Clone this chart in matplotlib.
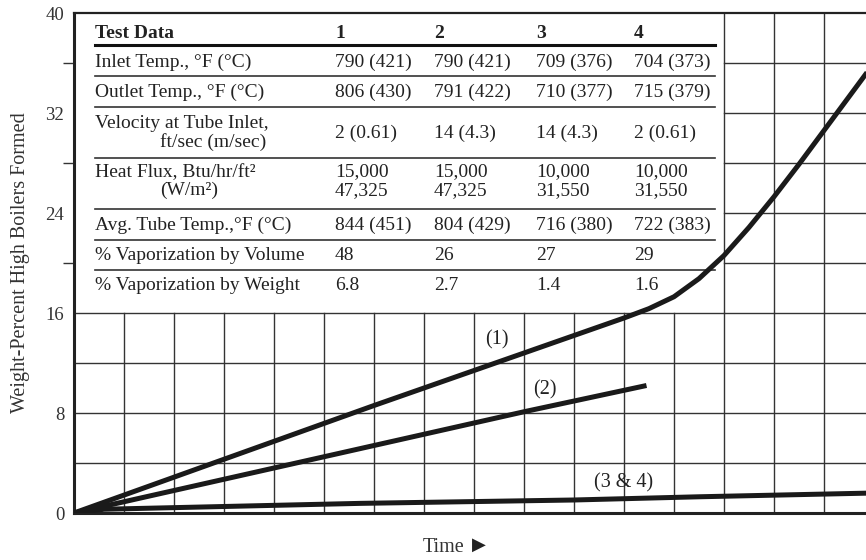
import matplotlib
matplotlib.use('Agg')
import matplotlib.pyplot as plt

plt.rcParams['font.family'] = ['Liberation Serif', 'DejaVu Serif', 'DejaVu Sans']

# curve data (time in grid units, weight-percent)
t1 = [0, 6, 9, 10, 10.5, 11, 11.5, 12, 12.5, 13, 13.5, 14, 14.5, 15, 15.5, 16]
w1 = [0, 8.6, 12.8, 14.2, 14.9, 15.6, 16.35, 17.3, 18.75, 20.6, 22.85, 25.3, 27.9, 30.6, 33.3, 36.0]
t2 = [0, 9, 11.45]
w2 = [0, 8.1, 10.2]
t34 = [0, 0.6, 5.72, 9.99, 12.52, 16.0]
w34 = [0, 0.3, 0.77, 1.04, 1.3, 1.6]

yticks = [0, 8, 16, 24, 32, 40]
ytick_minor = [20, 24, 28, 32, 36]

# table contents
col_heads = ['1', '2', '3', '4']
row_names = ['Inlet Temp., °F (°C)', 'Outlet Temp., °F (°C)',
             'Velocity at Tube Inlet,', 'Heat Flux, Btu/hr/ft²',
             'Avg. Tube Temp.,°F (°C)', '% Vaporization by Volume',
             '% Vaporization by Weight']
row_sub = ['', '', 'ft/sec (m/sec)', '(W/m²)', '', '', '']
inlet = ['790 (421)', '790 (421)', '709 (376)', '704 (373)']
outlet = ['806 (430)', '791 (422)', '710 (377)', '715 (379)']
velocity = ['2 (0.61)', '14 (4.3)', '14 (4.3)', '2 (0.61)']
flux_btu = ['15,000', '15,000', '10,000', '10,000']
flux_si = ['47,325', '47,325', '31,550', '31,550']
avg_temp = ['844 (451)', '804 (429)', '716 (380)', '722 (383)']
vap_vol = ['48', '26', '27', '29']
vap_wt = ['6.8', '2.7', '1.4', '1.6']

fig = plt.figure(figsize=(8.66, 5.6), dpi=100)
ax = fig.add_axes([74/866, 47/560, 792/866, 500/560])
ax.set_xlim(0, 15.84)
ax.set_ylim(0, 40)

gc = '#333333'
glw = 1.0
# grid, lower part full width, upper part only right of the table
for x in range(1, 16):
    ax.plot([x, x], [0, 16], color=gc, lw=glw, zorder=1)
for x in [13, 14, 15]:
    ax.plot([x, x], [16, 40], color=gc, lw=glw, zorder=1)
for y in [4, 8, 12, 16]:
    ax.plot([0, 16], [y, y], color=gc, lw=glw, zorder=1)
for y in [20, 24, 28, 32, 36]:
    ax.plot([13, 16], [y, y], color=gc, lw=glw, zorder=1)

# curves
for tx, wy in [(t1, w1), (t2, w2), (t34, w34)]:
    ax.plot(tx, wy, color='#1a1a1a', lw=3.6, solid_capstyle='butt',
            solid_joinstyle='round', zorder=3)
ax.text(8.45, 13.84, '(1)', fontsize=14.5, ha='center', va='center', color='#222')
ax.text(9.42, 9.84, '(2)', fontsize=14.5, ha='center', va='center', color='#222')
ax.text(10.99, 2.42, '(3 & 4)', fontsize=14.5, ha='center', va='center', color='#222')

# table
fs = 14
tc = '#222222'
xl = 0.42
xr = 12.82
col_x = [5.22, 7.2, 9.24, 11.2]
ax.text(xl, 38.4, 'Test Data', fontsize=fs, fontweight='bold', va='center', color=tc)
for cx, h in zip(col_x, col_heads):
    ax.text(cx, 38.4, h, fontsize=fs, fontweight='bold', va='center', color=tc)
ax.plot([xl, xr], [37.44, 37.44], color='#111', lw=2.2)
for yl in [34.96, 32.48, 28.4, 24.32, 21.84, 19.44]:
    ax.plot([xl, xr], [yl, yl], color='#333', lw=1.2)

row_y = [36.08, 33.68, 30.4, 26.5, 23.04, 20.64, 18.16]
row_vals = [inlet, outlet, velocity, None, avg_temp, vap_vol, vap_wt]
for i, name in enumerate(row_names):
    if row_sub[i]:
        ax.text(xl, row_y[i] + 0.76, name, fontsize=fs, va='center', color=tc)
        ax.text(1.72, row_y[i] - 0.72, row_sub[i], fontsize=fs, va='center', color=tc)
    else:
        ax.text(xl, row_y[i], name, fontsize=fs, va='center', color=tc)
    if row_vals[i] is not None:
        for cx, v in zip(col_x, row_vals[i]):
            ax.text(cx, row_y[i], v, fontsize=fs, va='center', color=tc)
for cx, a, b in zip(col_x, flux_btu, flux_si):
    ax.text(cx, 27.28, a, fontsize=fs, va='center', color=tc)
    ax.text(cx, 25.76, b, fontsize=fs, va='center', color=tc)

# axes styling
ax.spines['right'].set_visible(False)
ax.spines['left'].set_linewidth(2.2)
ax.spines['bottom'].set_linewidth(2.2)
ax.spines['top'].set_linewidth(1.6)
for s in ax.spines.values():
    s.set_color('#222')
ax.set_xticks([])
ax.set_yticks(yticks)
ax.set_yticklabels([str(v) for v in yticks], fontsize=13.5, color='#333')
ax.set_yticks(ytick_minor, minor=True)
ax.tick_params(axis='y', which='major', length=0, pad=7)
ax.tick_params(axis='y', which='minor', length=8, width=1.0, color='#333')
ax.set_ylabel('Weight-Percent High Boilers Formed', fontsize=14.5, color='#333', labelpad=11)

# x label with small pointer
fig.text(444/866, 1 - 548/560, 'Time', fontsize=14.5, color='#333', ha='center', va='center')
fig.text(479/866, 1 - 545/560, '▶', fontsize=13, color='#222', ha='center', va='center',
         family='DejaVu Sans')

fig.savefig('out.png', dpi=100)
